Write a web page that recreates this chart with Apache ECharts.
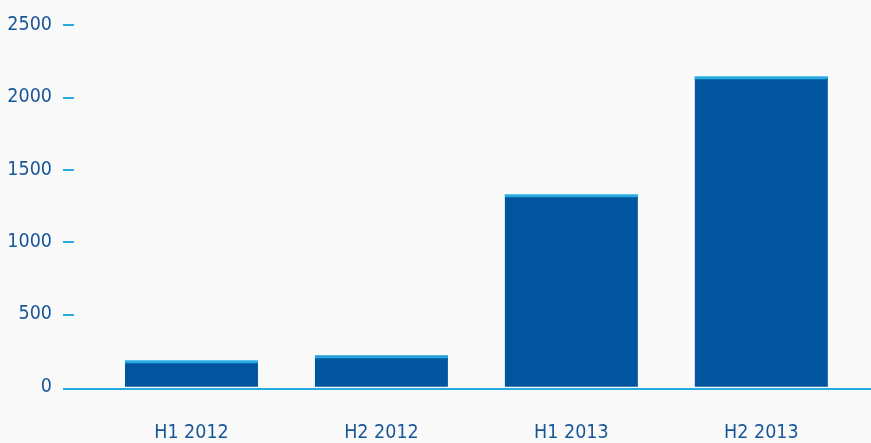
<!DOCTYPE html>
<html>
<head>
<meta charset="utf-8">
<script src="https://cdn.jsdelivr.net/npm/echarts@6/dist/echarts.min.js"></script>
<style>
  html, body { margin: 0; padding: 0; background: #fafafa; }
  #chart { width: 871px; height: 443px; }
</style>
</head>
<body>
<div id="chart"></div>
<script>
const categories = ['H1 2012', 'H2 2012', 'H1 2013', 'H2 2013'];
const values = [185, 217, 1332, 2147];
const yTicks = [0, 500, 1000, 1500, 2000, 2500];

function fontAvailable(name) {
  const c = document.createElement('canvas').getContext('2d');
  const s = 'H1 2012 mmmwwwiii 0123456789';
  let diff = false;
  ['monospace', 'serif'].forEach(function (fb) {
    c.font = '40px ' + fb;
    const a = c.measureText(s).width;
    c.font = '40px "' + name + '", ' + fb;
    const b = c.measureText(s).width;
    if (Math.abs(a - b) > 0.5) diff = true;
  });
  return diff;
}
const candidates = ['Liberation Sans Narrow', 'DejaVu Sans Condensed', 'Roboto Condensed', 'Noto Sans'];
let chosen = 'Roboto';
for (const f of candidates) { if (fontAvailable(f)) { chosen = f; break; } }
const FONT = '"' + chosen + '", sans-serif';
const ctx = document.createElement('canvas').getContext('2d');
ctx.font = '22px ' + FONT;
const w22 = ctx.measureText('H1 2012').width;
const xFontSize = Math.max(19.5, Math.min(22, Math.round(22 * 67 / w22)));
const yFontSize = xFontSize;

const TEXT_COLOR = '#17569a';
const CYAN = '#29abe2';
const BAR = '#00559e';

const chart = echarts.init(document.getElementById('chart'));

const option = {
  backgroundColor: '#fafafa',
  animation: false,
  grid: { left: 96.5, right: 14.7, top: 25, bottom: 56.3, outerBoundsMode: 'none', containLabel: false },
  xAxis: {
    type: 'category',
    data: categories,
    axisLine: { show: false },
    axisTick: { show: false },
    axisLabel: { color: TEXT_COLOR, fontFamily: FONT, fontSize: xFontSize, margin: 36 }
  },
  yAxis: {
    type: 'value',
    min: yTicks[0],
    max: yTicks[yTicks.length - 1],
    interval: yTicks[1] - yTicks[0],
    offset: 22.5,
    axisLine: { show: false },
    axisTick: { show: true, length: 11, lineStyle: { color: CYAN, width: 2 },
      customValues: yTicks.slice(1) },
    splitLine: { show: false },
    axisLabel: { color: TEXT_COLOR, fontFamily: FONT, fontSize: yFontSize, margin: 22,
      formatter: function (v) { return String(v); } }
  },
  series: [{
    type: 'custom',
    data: values.map((v, i) => [i, v]),
    encode: { x: 0, y: 1 },
    renderItem: function (params, api) {
      const i = api.value(0), v = api.value(1);
      const top = api.coord([i, v]);
      const base = api.coord([i, 0]);
      const w = api.size([1, 0])[0] * 0.7;
      const x0 = top[0] - w / 2;
      return {
        type: 'group',
        children: [
          { type: 'rect', shape: { x: x0, y: top[1], width: w, height: base[1] - top[1] }, style: { fill: BAR } },
          { type: 'rect', shape: { x: x0, y: top[1], width: w, height: 1 }, style: { fill: '#5cc6ef' } },
          { type: 'rect', shape: { x: x0, y: top[1] + 1, width: w, height: 2 }, style: { fill: CYAN } },
          { type: 'rect', shape: { x: x0, y: top[1] + 3, width: w, height: 1 }, style: { fill: '#0a6ab0' } }
        ]
      };
    }
  }]
};
chart.setOption(option);

const zeroY = chart.convertToPixel({ yAxisIndex: 0 }, 0);
chart.setOption({
  graphic: [{
    type: 'line',
    shape: { x1: 63, y1: zeroY + 2.3, x2: 871, y2: zeroY + 2.3 },
    style: { stroke: CYAN, lineWidth: 2 },
    z: 10
  }]
});
</script>
</body>
</html>
